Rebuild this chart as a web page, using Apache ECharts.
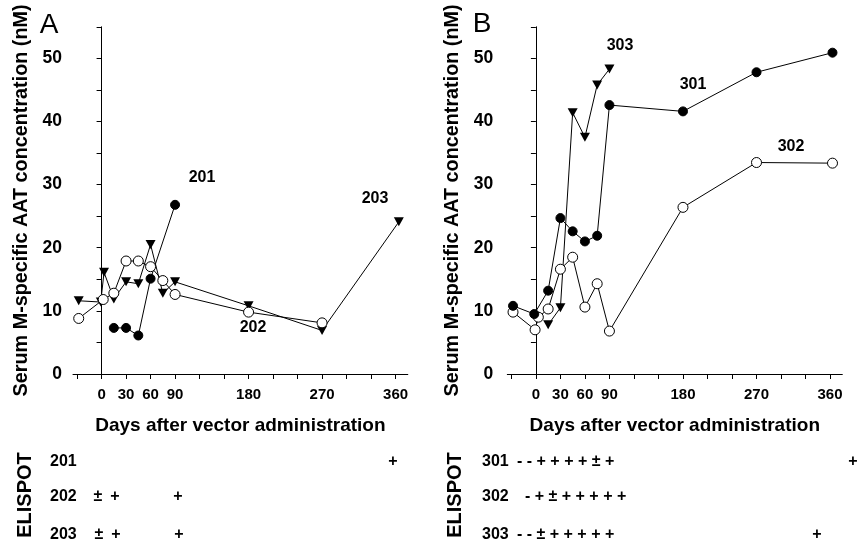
<!DOCTYPE html>
<html>
<head>
<meta charset="utf-8">
<script src="https://cdn.jsdelivr.net/npm/echarts@6/dist/echarts.min.js"></script>
<style>
html,body{margin:0;padding:0;background:#fff;}
#main{width:859px;height:542px;}
</style>
</head>
<body>
<div id="main"></div>
<script>
// panel A - days and serum AAT (nM)
var daysA201 = [15, 30, 45, 60, 90];
var concA201 = [7.3, 7.3, 6.1, 15.1, 26.8];
var daysA202 = [-28, 2, 15, 30, 45, 60, 75, 90, 180, 270];
var concA202 = [8.8, 11.8, 12.8, 17.9, 17.9, 17.0, 14.8, 12.6, 9.8, 8.1];
var daysA203 = [-28, -1, 3, 15, 30, 45, 60, 75, 90, 180, 270, 364];
var concA203 = [11.6, 11.4, 16.1, 11.9, 14.6, 14.3, 20.5, 12.8, 14.6, 10.8, 6.9, 24.1];

// panel B
var daysB301 = [-28, -2, 15, 30, 45, 60, 75, 90, 180, 270, 363];
var concB301 = [10.8, 9.5, 13.2, 24.7, 22.6, 21.0, 21.9, 42.6, 41.6, 47.8, 50.9];
var daysB302 = [-28, -1, 3, 15, 30, 45, 60, 75, 90, 180, 270, 363];
var concB302 = [9.8, 7.0, 9.0, 10.3, 16.6, 18.5, 10.6, 14.3, 6.8, 26.4, 33.5, 33.4];
var daysB303 = [15, 30, 45, 60, 75, 90];
var concB303 = [7.8, 10.5, 41.4, 37.5, 45.8, 48.3];

// axes
var xTicks = [-30, 0, 30, 60, 90, 120, 150, 180, 210, 240, 270, 300, 330, 360];
var xLabels = [0, 30, 60, 90, 180, 270, 360];
var yLabels = [0, 10, 20, 30, 40, 50];

// ELISPOT rows
var elispotA = ['201', '202', '203'];
var elispotMarksA = [['+'], ['\u00b1', '+', '+'], ['\u00b1', '+', '+']];
var elispotB = ['301', '302', '303'];
var elispotMarksB = [['- - + + + + \u00b1 +', '+'], ['- + \u00b1 + + + + +'], ['- - \u00b1 + + + + +', '+']];

var FONT = "'Liberation Sans', Arial, sans-serif";

function pairs(xs, ys){
	var out = [];
	for(var i=0;i<xs.length;i++){
		out.push([xs[i], ys[i]]);
	}
	return out;
}

function xAxisFor(gi){
	return {
		type: 'value', gridIndex: gi, min: -35, max: 375,
		splitLine: {show: false},
		axisLine: {show: true, onZero: false, lineStyle: {color: '#000', width: 1}},
		axisTick: {show: true, inside: false, length: 5, customValues: xTicks, lineStyle: {color: '#000'}},
		axisLabel: {customValues: xLabels, margin: 13, color: '#000', fontSize: 15, fontWeight: 'bold', fontFamily: FONT},
		name: 'Days after vector administration',
		nameLocation: 'middle', nameGap: 42,
		nameTextStyle: {color: '#000', fontSize: 19, fontWeight: 'bold', fontFamily: FONT}
	};
}

function yAxisFor(gi, labelMargin, nameGap){
	return {
		type: 'value', gridIndex: gi, min: 0, max: 55, interval: 5,
		splitLine: {show: false},
		axisLine: {show: true, lineStyle: {color: '#000', width: 1}},
		axisTick: {show: true, length: 5, lineStyle: {color: '#000'}},
		axisLabel: {customValues: yLabels, margin: labelMargin, color: '#000', fontSize: 17.5, fontWeight: 'bold', fontFamily: FONT},
		name: 'Serum M-specific AAT concentration (nM)',
		nameLocation: 'middle', nameGap: nameGap,
		nameTextStyle: {color: '#000', fontSize: 19.8, fontWeight: 'bold', fontFamily: FONT}
	};
}

function lineSeries(idx, data, kind){
	var s = {
		type: 'line', xAxisIndex: idx, yAxisIndex: idx, data: data,
		lineStyle: {color: '#000', width: 1},
		symbolSize: 9, z: 3, animation: false
	};
	if(kind == 'filled'){
		s.symbol = 'circle';
		s.itemStyle = {color: '#000', borderColor: '#000', borderWidth: 1};
	}else if(kind == 'open'){
		s.symbol = 'circle';
		s.symbolSize = 10;
		s.itemStyle = {color: '#fff', borderColor: '#000', borderWidth: 1};
	}else{
		s.symbol = 'triangle';
		s.symbolRotate = 180;
		s.symbolSize = [10, 9];
		s.itemStyle = {color: '#000', borderColor: '#000', borderWidth: 0};
	}
	return s;
}

function txt(text, x, y, size, align, weight, rot){
	return {
		type: 'text', x: x, y: y, rotation: rot || 0, z: 10,
		style: {
			text: text, fill: '#000',
			font: (weight || 'bold') + ' ' + size + 'px ' + FONT,
			align: align || 'center', verticalAlign: 'middle',
			textAlign: align || 'center', textVerticalAlign: 'middle'
		}
	};
}

var graphics = [
	txt('A', 49, 25, 28, 'center', 'normal'),
	txt('B', 482, 24, 28, 'center', 'normal'),
	txt('201', 202, 178, 16),
	txt('203', 375, 199, 16),
	txt('202', 253, 328, 16),
	txt('303', 620, 46, 16),
	txt('301', 693, 85, 16),
	txt('302', 791, 147, 16),
	txt('ELISPOT', 25, 495, 20, 'center', 'bold', Math.PI / 2),
	txt('ELISPOT', 455, 495, 20, 'center', 'bold', Math.PI / 2)
];
var rowY = [462, 497, 535];
var marksXA = [[393], [98, 115, 178], [99, 116, 179]];
var marksXB = [[517, 853], [525], [517, 817]];
for(var r=0;r<3;r++){
	graphics.push(txt(elispotA[r], 50, rowY[r], 16, 'left'));
	graphics.push(txt(elispotB[r], 482, rowY[r], 16, 'left'));
	for(var m=0;m<elispotMarksA[r].length;m++){
		graphics.push(txt(elispotMarksA[r][m], marksXA[r][m], rowY[r], 16, 'center'));
	}
	for(var m=0;m<elispotMarksB[r].length;m++){
		var single = elispotMarksB[r][m].length == 1;
		graphics.push(txt(elispotMarksB[r][m], marksXB[r][m], rowY[r], 16, single ? 'center' : 'left'));
	}
}

var chart = echarts.init(document.getElementById('main'), null, {renderer: 'canvas'});
chart.setOption({
	backgroundColor: '#fff',
	animation: false,
	grid: [
		{left: 73, top: 26.8, width: 334.8, height: 347.2, containLabel: false, outerBoundsMode: 'none'},
		{left: 507.3, top: 26.8, width: 335, height: 347.2, containLabel: false, outerBoundsMode: 'none'}
	],
	xAxis: [xAxisFor(0), xAxisFor(1)],
	yAxis: [yAxisFor(0, 11, 41), yAxisFor(1, 14, 45)],
	series: [
		lineSeries(0, pairs(daysA203, concA203), 'tri'),
		lineSeries(0, pairs(daysA202, concA202), 'open'),
		lineSeries(0, pairs(daysA201, concA201), 'filled'),
		lineSeries(1, pairs(daysB303, concB303), 'tri'),
		lineSeries(1, pairs(daysB302, concB302), 'open'),
		lineSeries(1, pairs(daysB301, concB301), 'filled')
	],
	graphic: graphics
});
</script>
</body>
</html>
